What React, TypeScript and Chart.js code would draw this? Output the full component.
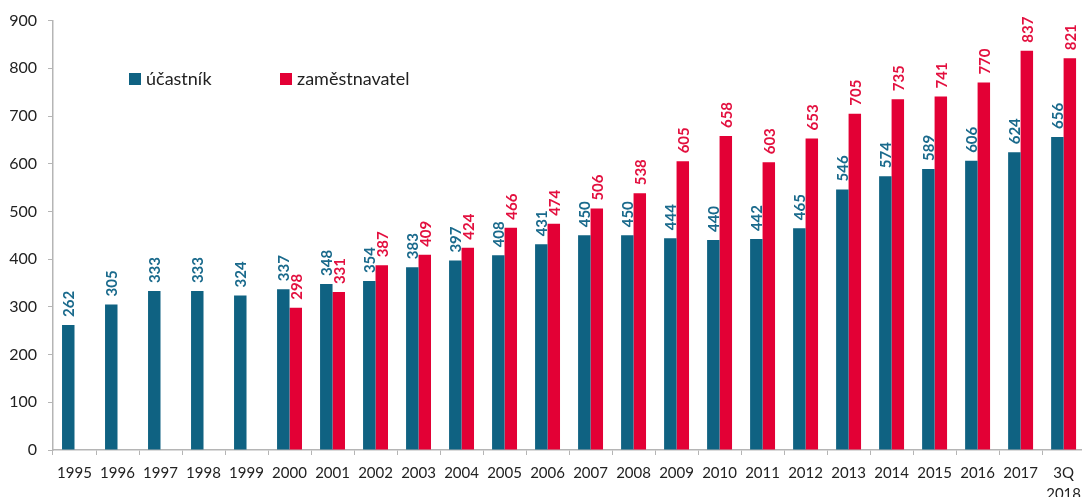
import React, { useEffect, useRef } from "react";
import { Chart, registerables } from "chart.js";

Chart.register(...registerables);

const categories: (string | string[])[] = [
  "1995", "1996", "1997", "1998", "1999", "2000", "2001", "2002", "2003", "2004",
  "2005", "2006", "2007", "2008", "2009", "2010", "2011", "2012", "2013", "2014",
  "2015", "2016", "2017", ["3Q", "2018"],
];

const ucastnik: (number | null)[] = [
  262, 305, 333, 333, 324, 337, 348, 354, 383, 397,
  408, 431, 450, 450, 444, 440, 442, 465, 546, 574,
  589, 606, 624, 656,
];

const zamestnavatel: (number | null)[] = [
  null, null, null, null, null, 298, 331, 387, 409, 424,
  466, 474, 506, 538, 605, 658, 603, 653, 705, 735,
  741, 770, 837, 821,
];

const seriesNames = ["účastník", "zaměstnavatel"];
const yTicks = [0, 100, 200, 300, 400, 500, 600, 700, 800, 900];

const BLUE = "#0f6282";
const RED = "#e30035";
const BLUE_LABEL = "#1a6a8c";
const RED_LABEL = "#e3103f";
const FONT = "Lato, 'Open Sans', sans-serif";

const valueLabels = {
  id: "valueLabels",
  afterDatasetsDraw(chart: any) {
    const ctx = chart.ctx;
    chart.data.datasets.forEach((ds: any, di: number) => {
      const meta = chart.getDatasetMeta(di);
      meta.data.forEach((bar: any, i: number) => {
        const v = ds.data[i];
        if (v === null || v === undefined) return;
        ctx.save();
        ctx.translate(bar.x, bar.y - 8);
        ctx.rotate(-Math.PI / 2);
        ctx.font = `bold 15px ${FONT}`;
        ctx.fillStyle = di === 0 ? BLUE_LABEL : RED_LABEL;
        ctx.textAlign = "left";
        ctx.textBaseline = "middle";
        ctx.fillText(String(v), 0, 1);
        ctx.restore();
      });
    });
  },
};

const customLegend = {
  id: "customLegend",
  afterDraw(chart: any) {
    const ctx = chart.ctx;
    const items = [
      { x: 129, color: BLUE, text: seriesNames[0] },
      { x: 280, color: RED, text: seriesNames[1] },
    ];
    ctx.save();
    items.forEach((it) => {
      ctx.fillStyle = it.color;
      ctx.fillRect(it.x, 73, 12, 12);
      ctx.fillStyle = "#222";
      ctx.font = `18px ${FONT}`;
      ctx.textAlign = "left";
      ctx.textBaseline = "alphabetic";
      ctx.fillText(it.text, it.x + 17, 85);
    });
    ctx.restore();
  },
};

export default function App() {
  const ref = useRef<HTMLCanvasElement>(null);
  useEffect(() => {
    if (!ref.current) return;
    const chart = new Chart(ref.current, {
      type: "bar",
      data: {
        labels: categories,
        datasets: [
          {
            label: seriesNames[0],
            data: ucastnik,
            backgroundColor: BLUE,
            categoryPercentage: 0.58,
            barPercentage: 1,
          },
          {
            label: seriesNames[1],
            data: zamestnavatel,
            backgroundColor: RED,
            categoryPercentage: 0.58,
            barPercentage: 1,
          },
        ],
      },
      options: {
        animation: false,
        responsive: false,
        layout: { padding: { left: 0, right: 0, top: 18, bottom: 0 } },
        plugins: {
          legend: { display: false },
          tooltip: { enabled: false },
        },
        scales: {
          x: {
            grid: {
              drawOnChartArea: false,
              drawTicks: true,
              tickLength: 5,
              color: "#b5b5b5",
              offset: true,
            },
            border: { color: "#b5b5b5", width: 1.5 },
            ticks: {
              font: { family: FONT, size: 15, lineHeight: 1.45 },
              color: "#222",
              maxRotation: 0,
              autoSkip: false,
              padding: 7,
            },
            afterFit: (s: any) => {
              s.height = 70;
            },
          },
          y: {
            min: 0,
            max: 900,
            afterBuildTicks: (s: any) => {
              s.ticks = yTicks.map((v) => ({ value: v }));
            },
            grid: {
              drawOnChartArea: false,
              drawTicks: true,
              tickLength: 5,
              color: "#b5b5b5",
            },
            border: { color: "#b5b5b5", width: 1.5 },
            ticks: {
              font: { family: FONT, size: 16 },
              color: "#222",
              padding: 11,
            },
            afterFit: (s: any) => {
              s.width = 53;
            },
          },
        },
      },
      plugins: [valueLabels, customLegend],
    });
    return () => chart.destroy();
  }, []);

  return (
    <div
      style={{
        position: "absolute",
        left: 0,
        top: 0,
        width: 1082,
        height: 497,
        overflow: "hidden",
        background: "#fff",
      }}
    >
      <canvas ref={ref} width={1088} height={520} style={{ display: "block" }} />
    </div>
  );
}
